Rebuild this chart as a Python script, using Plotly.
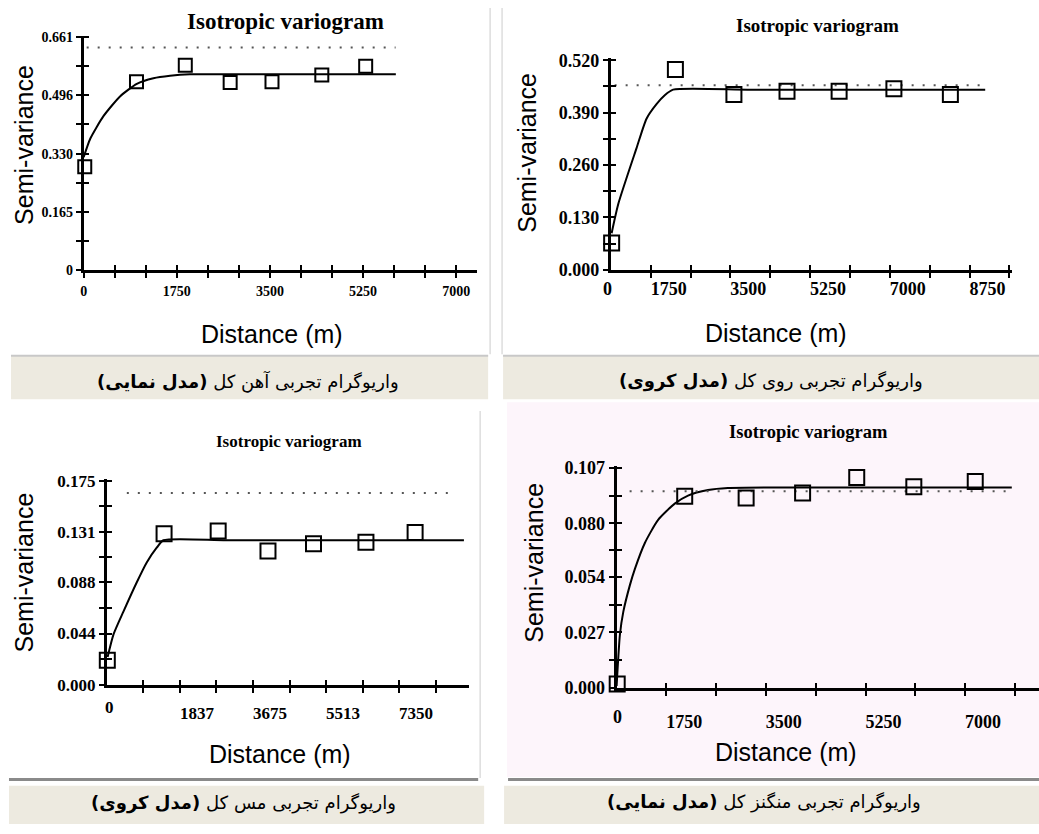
import plotly.graph_objects as go

W, H = 1039, 834

# ---------------- data ----------------
# Panel 1 (top-left): Fe, exponential model
p1_lag = [20, 992, 1909, 2752, 3538, 4474, 5298]
p1_gamma = [0.293, 0.534, 0.581, 0.532, 0.534, 0.553, 0.578]
p1_model_lag = [0, 125, 374, 687, 998, 1310, 1623, 1997, 3000, 4500, 5865]
p1_model_gamma = [0.320, 0.373, 0.437, 0.493, 0.528, 0.544, 0.551, 0.555, 0.555, 0.555, 0.555]
p1_sill_lag = [56, 5860]
p1_sill = [0.631, 0.631]
p1_yticks = [0, 0.165, 0.330, 0.496, 0.661]
p1_ytext = ["0", "0.165", "0.330", "0.496", "0.661"]
p1_xticks = [0, 1750, 3500, 5250, 7000]
p1_xtext = ["0", "1750", "3500", "5250", "7000"]

# Panel 2 (top-right): Zn, spherical model
p2_lag = [15, 1415, 2700, 3866, 5010, 6213, 7453]
p2_gamma = [0.067, 0.497, 0.435, 0.443, 0.443, 0.449, 0.435]
p2_model_lag = [15, 162, 562, 781, 1000, 1181, 1365, 3000, 5000, 8218]
p2_model_gamma = [0.091, 0.164, 0.302, 0.375, 0.411, 0.433, 0.447, 0.447, 0.447, 0.447]
p2_sill_lag = [81, 8218]
p2_sill = [0.458, 0.458]
p2_yticks = [0, 0.130, 0.260, 0.390, 0.520]
p2_ytext = ["0.000", "0.130", "0.260", "0.390", "0.520"]
p2_xticks = [1750, 3500, 5250, 7000, 8750]
p2_xtext = ["1750", "3500", "5250", "7000", "8750"]

# Panel 3 (bottom-left): Cu, spherical model
p3_lag = [10, 1438, 2799, 4052, 5197, 6516, 7753]
p3_gamma = [0.021, 0.1297, 0.132, 0.1148, 0.121, 0.1223, 0.1307]
p3_model_lag = [18, 168, 418, 752, 1002, 1253, 1421, 3000, 6000, 8981]
p3_model_gamma = [0.0238, 0.0434, 0.063, 0.088, 0.105, 0.1176, 0.124, 0.124, 0.124, 0.124]
p3_sill_lag = [501, 8688]
p3_sill = [0.1646, 0.1646]
p3_yticks = [0, 0.044, 0.088, 0.131, 0.175]
p3_ytext = ["0.000", "0.044", "0.088", "0.131", "0.175"]
p3_xticks = [1837.5, 3675, 5512.5, 7350]
p3_xtext = ["1837", "3675", "5513", "7350"]

# Panel 4 (bottom-right): Mn, exponential model
p4_lag = [10, 1196, 2275, 3267, 4218, 5221, 6300]
p4_gamma = [0.002, 0.0932, 0.0924, 0.0948, 0.1023, 0.0978, 0.1004]
p4_model_lag = [0, 58, 117, 233, 321, 496, 729, 1021, 1254, 1604, 1954, 3500, 5000, 6942]
p4_model_gamma = [0.001, 0.026, 0.037, 0.050, 0.0579, 0.0705, 0.0817, 0.0896, 0.0935,
                  0.0962, 0.0972, 0.0975, 0.0975, 0.0975]
p4_sill_lag = [228, 6942]
p4_sill = [0.0956, 0.0956]
p4_yticks = [0, 0.027, 0.054, 0.080, 0.107]
p4_ytext = ["0.000", "0.027", "0.054", "0.080", "0.107"]
p4_xticks = [1750, 3500, 5250, 7000]
p4_xtext = ["1750", "3500", "5250", "7000"]

title_text = "Isotropic variogram"
ylabel = "Semi-variance"
xlabel = "Distance (m)"
captions = [
    ("واریوگرام تجربی آهن کل", "(مدل نمایی)"),
    ("واریوگرام تجربی روی کل", "(مدل کروی)"),
    ("واریوگرام تجربی مس کل", "(مدل کروی)"),
    ("واریوگرام تجربی منگنز کل", "(مدل نمایی)"),
]


def fx(px):
    return px / W


def fy(py):
    return 1 - py / H


def mids(v):
    return [(a + b) / 2 for a, b in zip(v[:-1], v[1:])]


def thirds(v):
    out = []
    for a, b in zip(v[:-1], v[1:]):
        out += [a + (b - a) / 3, a + 2 * (b - a) / 3]
    return out


panels = [
    dict(lag=p1_lag, g=p1_gamma, ml=p1_model_lag, mg=p1_model_gamma, sl=p1_sill_lag, s=p1_sill,
         yt=p1_yticks, ytt=p1_ytext, xt=p1_xticks, xtt=p1_xtext,
         X0=80, X1=475, Yt=28.2, Yb=267.7, xr=7393, yr=0.665,
         xminor=thirds([0, 1750, 3500, 5250, 7000]), yminor=mids(p1_yticks),
         tfs=14, shift=0, stand=1, msize=13, zero=None,
         title=(283, 14, 23), yl=(20, 140), xl=(269, 333), cap=(245, 382)),
    dict(lag=p2_lag, g=p2_gamma, ml=p2_model_lag, mg=p2_model_gamma, sl=p2_sill_lag, s=p2_sill,
         yt=p2_yticks, ytt=p2_ytext, xt=p2_xticks, xtt=p2_xtext,
         X0=609.3, X1=1011.7, Yt=51.3, Yb=267.7, xr=8802, yr=0.525,
         xminor=[875 + 1750 * k for k in range(5)], yminor=mids(p2_yticks),
         tfs=18, shift=-22, stand=-5, msize=15, zero=(606, 287),
         title=(817, 18, 19), yl=(525, 148), xl=(775, 332), cap=(770, 381)),
    dict(lag=p3_lag, g=p3_gamma, ml=p3_model_lag, mg=p3_model_gamma, sl=p3_sill_lag, s=p3_sill,
         yt=p3_yticks, ytt=p3_ytext, xt=p3_xticks, xtt=p3_xtext,
         X0=103.3, X1=466.7, Yt=480.9, Yb=691.7, xr=9106, yr=0.177,
         xminor=[918.75 + 1837.5 * k for k in range(5)], yminor=mids(p3_yticks),
         tfs=17, shift=17, stand=6, msize=15, zero=(106, 715),
         title=(286, 443, 17), yl=(20, 577), xl=(277, 762), cap=(240, 813)),
    dict(lag=p4_lag, g=p4_gamma, ml=p4_model_lag, mg=p4_model_gamma, sl=p4_sill_lag, s=p4_sill,
         yt=p4_yticks, ytt=p4_ytext, xt=p4_xticks, xtt=p4_xtext,
         X0=615, X1=1039, Yt=467.9, Yb=695, xr=7420, yr=0.108,
         xminor=[875 + 1750 * k for k in range(4)], yminor=mids(p4_yticks),
         tfs=18, shift=-32, stand=10, msize=15, zero=(616, 725),
         title=(808, 433, 18.5), yl=(532, 567), xl=(785, 760), cap=(763, 812)),
]

fig = go.Figure()
layout = dict(width=W, height=H, margin=dict(l=0, r=0, t=0, b=0),
              paper_bgcolor="white", plot_bgcolor="rgba(0,0,0,0)",
              showlegend=False, annotations=[], shapes=[])

serif = "Liberation Serif"
sans = "Liberation Sans"

for i, p in enumerate(panels, start=1):
    sx = "" if i == 1 else str(i)
    ox = str(i + 4)
    xa, ya = "x" + sx, "y" + sx
    fig.add_trace(go.Scatter(x=p["ml"], y=p["mg"], mode="lines",
                             line=dict(color="black", width=2, shape="spline", smoothing=0.6),
                             xaxis=xa, yaxis=ya, hoverinfo="skip", cliponaxis=False))
    fig.add_trace(go.Scatter(x=p["sl"], y=p["s"], mode="lines",
                             line=dict(color="#555555", width=2, dash="2px,9px"),
                             xaxis=xa, yaxis=ya, hoverinfo="skip", cliponaxis=False))
    fig.add_trace(go.Scatter(x=p["lag"], y=p["g"], mode="markers",
                             marker=dict(symbol="square-open", size=p["msize"], color="black",
                                         line=dict(width=2, color="black")),
                             xaxis=xa, yaxis=ya, cliponaxis=False))
    fig.add_trace(go.Scatter(x=[0], y=[0], mode="markers", marker=dict(opacity=0),
                             xaxis="x" + ox, yaxis="y" + ox, hoverinfo="skip"))

    xdom = [fx(p["X0"]), fx(p["X1"])]
    ydom = [fy(p["Yb"]), fy(p["Yt"])]
    tick_common = dict(tickcolor="black", tickwidth=2, ticklen=5)
    layout["xaxis" + sx] = dict(
        domain=xdom, range=[0, p["xr"]], anchor=ya, showline=True, linewidth=3, linecolor="black",
        ticks="outside", tickvals=p["xt"], ticktext=p["xtt"], showgrid=False, zeroline=False,
        tickfont=dict(family=serif, size=p["tfs"], color="black", weight="bold"),
        ticklabelshift=p["shift"], ticklabelstandoff=p["stand"],
        minor=dict(tickvals=p["xminor"], ticks="outside", ticklen=5, tickwidth=2, tickcolor="black"),
        fixedrange=True, **tick_common)
    layout["yaxis" + sx] = dict(
        domain=ydom, range=[0, p["yr"]], anchor=xa, showline=True, linewidth=3, linecolor="black",
        ticks="outside", tickvals=p["yt"], ticktext=p["ytt"], showgrid=False, zeroline=False,
        tickfont=dict(family=serif, size=p["tfs"], color="black", weight="bold"),
        minor=dict(tickvals=p["yminor"], ticks="outside", ticklen=5, tickwidth=2, tickcolor="black"),
        fixedrange=True, **tick_common)
    layout["xaxis" + ox] = dict(
        overlaying=xa, range=[0, p["xr"]], anchor="y" + ox, showline=False, ticks="inside",
        tickvals=([0] if p["zero"] else []) + p["xt"], showticklabels=False, showgrid=False,
        zeroline=False,
        minor=dict(tickvals=p["xminor"], ticks="inside", ticklen=5, tickwidth=2, tickcolor="black"),
        fixedrange=True, **tick_common)
    layout["yaxis" + ox] = dict(
        overlaying=ya, range=[0, p["yr"]], anchor="x" + ox, showline=False, ticks="inside",
        tickvals=p["yt"], showticklabels=False, showgrid=False, zeroline=False,
        minor=dict(tickvals=p["yminor"], ticks="inside", ticklen=5, tickwidth=2, tickcolor="black"),
        fixedrange=True, **tick_common)

    ann = layout["annotations"]
    tx, ty, ts = p["title"]
    ann.append(dict(text=title_text, x=fx(tx), y=fy(ty), xref="paper", yref="paper",
                    showarrow=False, font=dict(family=serif, size=ts, color="black", weight="bold"),
                    xanchor="center", yanchor="middle"))
    ann.append(dict(text=ylabel, x=fx(p["yl"][0]), y=fy(p["yl"][1]), xref="paper", yref="paper",
                    showarrow=False, textangle=-90, font=dict(family=sans, size=25, color="black"),
                    xanchor="center", yanchor="middle"))
    ann.append(dict(text=xlabel, x=fx(p["xl"][0]), y=fy(p["xl"][1]), xref="paper", yref="paper",
                    showarrow=False, font=dict(family=sans, size=25, color="black"),
                    xanchor="center", yanchor="middle"))
    if p["zero"]:
        ann.append(dict(text="0", x=fx(p["zero"][0]), y=fy(p["zero"][1]), xref="paper", yref="paper",
                        showarrow=False, font=dict(family=serif, size=p["tfs"], color="black", weight="bold"),
                        xanchor="center", yanchor="middle"))
    reg, bold = captions[i - 1]
    ann.append(dict(text="\u200f" + reg + " <b>" + bold + "</b>\u200f",
                    x=fx(p["cap"][0]), y=fy(p["cap"][1]), xref="paper", yref="paper",
                    showarrow=False, font=dict(family="DejaVu Sans", size=18, color="black"),
                    xanchor="center", yanchor="middle"))


def rect(x0, y0, x1, y1, color):
    return dict(type="rect", xref="paper", yref="paper", x0=fx(x0), x1=fx(x1), y0=fy(y1), y1=fy(y0),
                fillcolor=color, line=dict(width=0), layer="below")


def line(x0, y0, x1, y1, color, w):
    return dict(type="line", xref="paper", yref="paper", x0=fx(x0), x1=fx(x1), y0=fy(y0), y1=fy(y1),
                line=dict(color=color, width=w), layer="below")


bar = "#edeae0"
layout["shapes"] = [
    rect(505, 403, 1039, 786, "#fdf5fb"),
    rect(7, 355, 486, 400, bar),
    rect(501, 355, 1039, 400, bar),
    rect(5, 795, 482, 834, bar),
    rect(502, 795, 1039, 834, bar),
    line(7, 355.5, 486, 355.5, "#c8c8c8", 2),
    line(501, 355.5, 1039, 355.5, "#c8c8c8", 2),
    line(488, 0, 488, 354, "#dddddd", 1.5),
    line(500, 0, 500, 354, "#dddddd", 1.5),
    line(478, 412, 478, 787, "#dddddd", 1.5),
    line(5, 788.5, 476, 788.5, "#8a8a8a", 3),
    line(506, 788.5, 1039, 788.5, "#8a8a8a", 3),
]

fig.update_layout(**layout)
fig.write_html("out.html", config={"displayModeBar": False},
               post_script="document.body.style.margin='0';document.body.style.padding='0';"
                           "document.body.style.overflow='hidden';"
                           "document.documentElement.style.overflow='hidden';")
